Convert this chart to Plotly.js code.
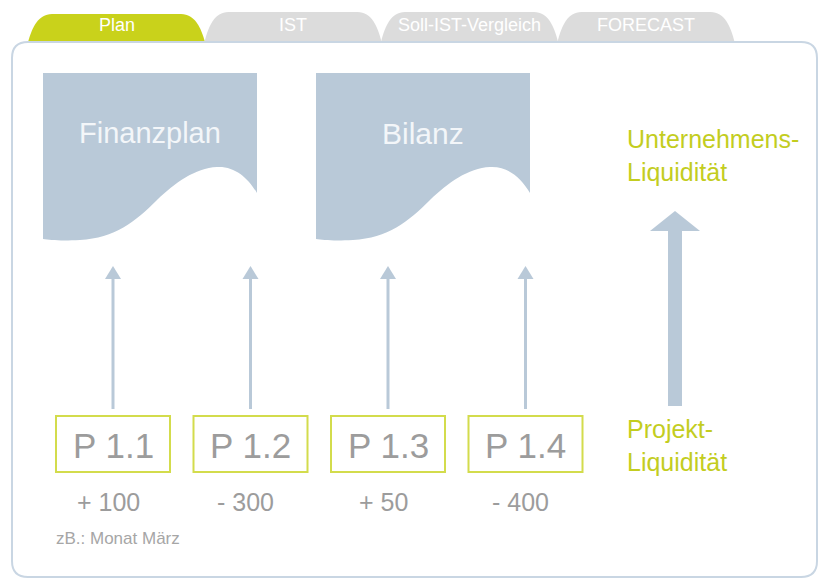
<!DOCTYPE html>
<html>
<head>
<meta charset="utf-8">
<script src="https://cdn.plot.ly/plotly-3.0.1.min.js"></script>
<style>html,body{margin:0;padding:0;background:#fff;}#chart{width:819px;height:578px;}</style>
</head>
<body>
<div id="chart"></div>
<script>
// ---- data ----
const tabLabels = ["Plan", "IST", "Soll-IST-Vergleich", "FORECAST"];
const activeTab = "Plan";
const documentNames = ["Finanzplan", "Bilanz"];
const projectNames = ["P 1.1", "P 1.2", "P 1.3", "P 1.4"];
const projectValues = [100, -300, 50, -400];
const periodNote = "zB.: Monat März";
const levelTop = ["Unternehmens-", "Liquidität"];
const levelBottom = ["Projekt-", "Liquidität"];

// ---- styling / layout constants ----
const W = 819, H = 578;
const FONT = "Liberation Sans, Arial, sans-serif";
const GREEN = "#c9d21b";
const GREEN_TEXT = "#c3cd1f";
const BOX_BORDER = "#d3dc4c";
const TAB_GRAY = "#dcdcdc";
const DOC = "#b9c9d8";
const PANEL = "#c9d6e3";
const GRAY_TEXT = "#9c9c9c";

const shapes = [];
const annotations = [];

// tabs
const tabX0 = 28, tabW = 177, tabStep = 176.5;
tabLabels.forEach((t, i) => {
  const x0 = tabX0 + i * tabStep, x1 = x0 + tabW;
  const active = t === activeTab;
  const top = active ? 14 : 12, bot = 42;
  const p = `M${x0},${bot} C${x0+4},${top+14} ${x0+10},${top} ${x0+24},${top} ` +
            `L${x1-24},${top} C${x1-10},${top} ${x1-4},${top+14} ${x1},${bot} Z`;
  shapes.push({type: "path", path: p, xref: "x", yref: "y", fillcolor: active ? GREEN : TAB_GRAY,
               line: {width: 0}, layer: "below"});
  annotations.push({x: (x0 + x1) / 2, y: 25, xref: "x", yref: "y", text: t, showarrow: false,
                    xanchor: "center", yanchor: "middle",
                    font: {family: FONT, size: 18, color: "#ffffff"}});
});

// panel
const px0 = 12, py0 = 42, px1 = 817, py1 = 577, r = 16;
shapes.push({type: "path", xref: "x", yref: "y", fillcolor: "#ffffff",
  path: `M${px0},${py0+r} Q${px0},${py0} ${px0+r},${py0} L${px1-r},${py0} Q${px1},${py0} ${px1},${py0+r} ` +
        `L${px1},${py1-r} Q${px1},${py1} ${px1-r},${py1} L${px0+r},${py1} Q${px0},${py1} ${px0},${py1-r} Z`,
  line: {color: PANEL, width: 2}});

// documents
const docX0 = [43, 316], docY0 = 73, docW = 214;
const docFont = [29, 30];
documentNames.forEach((d, i) => {
  const x = docX0[i], y = docY0;
  const X = v => (x + v).toFixed(1), Y = v => (y + v).toFixed(1);
  const p = `M${X(0)},${Y(0)} L${X(docW)},${Y(0)} L${X(docW)},${Y(120)} ` +
            `C${X(205)},${Y(105)} ${X(192)},${Y(93)} ${X(174)},${Y(94)} ` +
            `C${X(152)},${Y(95)} ${X(132)},${Y(110)} ${X(114)},${Y(127)} ` +
            `C${X(92)},${Y(149)} ${X(72)},${Y(165)} ${X(37)},${Y(167)} ` +
            `C${X(17)},${Y(168)} ${X(7)},${Y(167)} ${X(0)},${Y(166)} Z`;
  shapes.push({type: "path", path: p, xref: "x", yref: "y", fillcolor: DOC, line: {width: 0}});
  annotations.push({x: x + docW / 2, y: 133, xref: "x", yref: "y", text: d, showarrow: false,
                    xanchor: "center", yanchor: "middle",
                    font: {family: FONT, size: docFont[i], color: "#f3f6f9"}});
});

// project boxes, arrows and values
const boxX0 = 56, boxStep = 137.5, boxW = 114, boxY0 = 416, boxH = 56;
projectNames.forEach((pn, i) => {
  const x0 = boxX0 + i * boxStep, cx = x0 + boxW / 2;
  shapes.push({type: "rect", xref: "x", yref: "y", x0: x0, x1: x0 + boxW, y0: boxY0, y1: boxY0 + boxH,
               line: {color: BOX_BORDER, width: 2}, fillcolor: "rgba(0,0,0,0)"});
  annotations.push({x: cx, y: boxY0 + boxH / 2 + 1, xref: "x", yref: "y", text: pn, showarrow: false,
                    xanchor: "center", yanchor: "middle",
                    font: {family: FONT, size: 35, color: GRAY_TEXT}});
  // thin arrow
  shapes.push({type: "line", xref: "x", yref: "y", x0: cx, x1: cx, y0: 409, y1: 276,
               line: {color: DOC, width: 3}});
  shapes.push({type: "path", xref: "x", yref: "y", fillcolor: DOC, line: {width: 0},
               path: `M${cx-8},${279} L${cx},${266} L${cx+8},${279} Z`});
  const v = projectValues[i];
  const lbl = (v >= 0 ? "+ " : "- ") + Math.abs(v);
  annotations.push({x: cx - 5, y: 502, xref: "x", yref: "y", text: lbl, showarrow: false,
                    xanchor: "center", yanchor: "middle",
                    font: {family: FONT, size: 25, color: GRAY_TEXT}});
});

annotations.push({x: 54, y: 538, xref: "x", yref: "y", text: periodNote, showarrow: false,
                  xanchor: "left", yanchor: "middle",
                  font: {family: FONT, size: 17, color: "#a6a6a6"}});

// big arrow
const ax = 675;
shapes.push({type: "path", xref: "x", yref: "y", fillcolor: DOC, line: {width: 0},
  path: `M${ax-7},406 L${ax-7},231 L${ax-25},231 L${ax},211 L${ax+25},231 L${ax+7},231 L${ax+7},406 Z`});

annotations.push({x: 625, y: 155, xref: "x", yref: "y", text: levelTop.join("<br>"), showarrow: false,
                  xanchor: "left", yanchor: "middle", align: "left",
                  font: {family: FONT, size: 25, color: GREEN_TEXT}});
annotations.push({x: 625, y: 445, xref: "x", yref: "y", text: levelBottom.join("<br>"), showarrow: false,
                  xanchor: "left", yanchor: "middle", align: "left",
                  font: {family: FONT, size: 25, color: GREEN_TEXT}});

const layout = {
  width: W, height: H,
  margin: {l: 0, r: 0, t: 0, b: 0, pad: 0},
  paper_bgcolor: "#ffffff", plot_bgcolor: "#ffffff",
  xaxis: {range: [0, W], visible: false, fixedrange: true},
  yaxis: {range: [H, 0], visible: false, fixedrange: true},
  showlegend: false,
  shapes: shapes,
  annotations: annotations
};

Plotly.newPlot("chart", [{type: "scatter", x: [], y: [], hoverinfo: "skip"}], layout,
  {displayModeBar: false, staticPlot: true});
</script>
</body>
</html>
